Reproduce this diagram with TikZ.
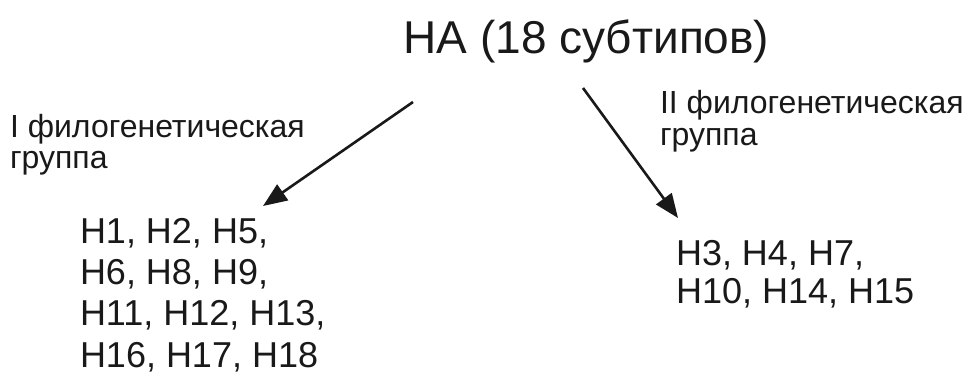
\documentclass[tikz,border=0pt]{standalone}
\usepackage{fontspec}
\setmainfont{Liberation Sans}
\usetikzlibrary{arrows.meta}
\tikzset{
  lbl/.style={inner sep=0pt, outer sep=0pt, anchor=base west, align=left, text=black!90},
  arr/.style={line width=2.6pt, draw=black!90, -{Triangle[length=24pt,width=19pt]}, shorten >=0pt}
}
\begin{document}
\begin{tikzpicture}[x=1pt,y=-1pt]
\useasboundingbox[fill=white] (0,0) rectangle (969,372);
\node[lbl, font=\fontsize{46}{50}\selectfont] (title) at (403.5,53) {НА (18 субтипов)};
\node[lbl, font=\fontsize{32}{31.5}\selectfont] (g1) at (10,168.5) {I филогенетическая\\группа};
\node[lbl, font=\fontsize{32}{31.5}\selectfont] (g2) at (660,145) {II филогенетическая\\группа};
\node[lbl, font=\fontsize{36}{41.3}\selectfont] (l1) at (80,367) {H1, H2, H5,\\H6, H8, H9,\\H11, H12, H13,\\H16, H17, H18};
\node[lbl, font=\fontsize{36}{38}\selectfont] (l2) at (676,303) {H3, H4, H7,\\H10, H14, H15};
\coordinate (s1) at (413,102);
\coordinate (e1) at (263,206);
\coordinate (s2) at (583,88);
\coordinate (e2) at (678,218);
\draw[arr] (s1) -- (e1);
\draw[arr] (s2) -- (e2);
\end{tikzpicture}
\end{document}
